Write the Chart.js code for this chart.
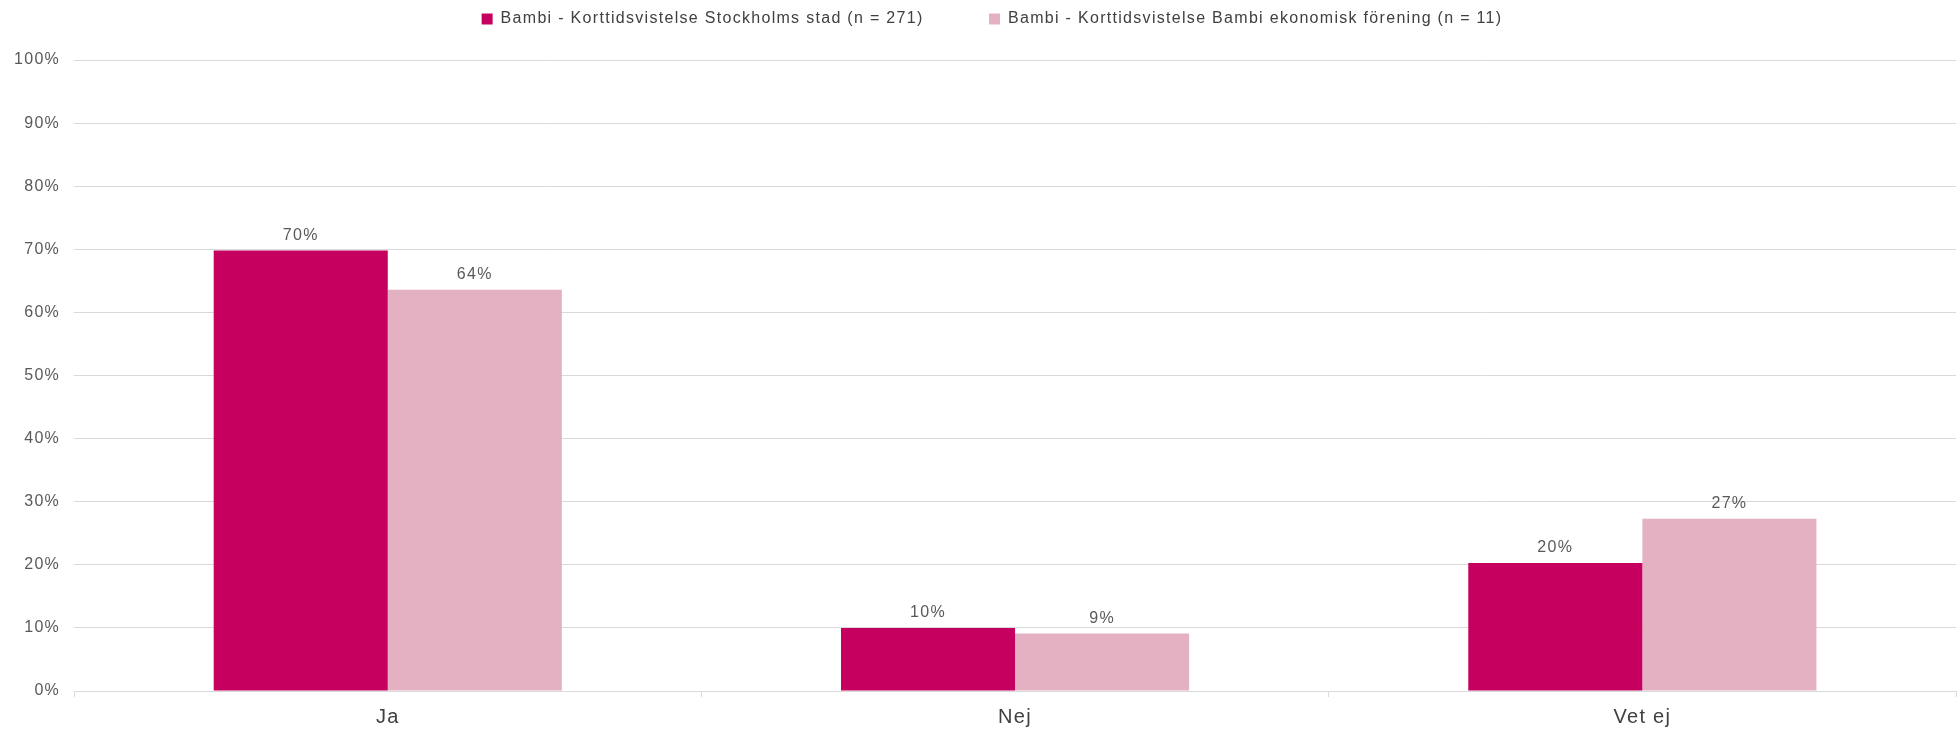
<!DOCTYPE html>
<html>
<head>
<meta charset="utf-8">
<script src="https://cdn.jsdelivr.net/npm/chart.js@4.4.0/dist/chart.umd.min.js"></script>
<style>
    html, body { margin: 0; padding: 0; background: #fff; }
    #wrap { width: 1960px; height: 729px; }
</style>
</head>
<body>
<div id="wrap"><canvas id="answers-chart"></canvas></div>
<script>
const categories = ["Ja", "Nej", "Vet ej"];
const seriesNames = [
    "Bambi - Korttidsvistelse Stockholms stad (n = 271)",
    "Bambi - Korttidsvistelse Bambi ekonomisk förening (n = 11)"
];
const stockholmValues = [69.8, 10.0, 20.3];
const foreningValues = [63.6, 9.1, 27.3];
const yTicks = [0, 10, 20, 30, 40, 50, 60, 70, 80, 90, 100];

const textGray = "#595959";
const gridGray = "#d9d9d9";
const fontFamily = "'Liberation Sans', Arial, sans-serif";
const spacing = "1.3px";

// the original text is a bit wider than plain Arial
const letterSpacing = {
    id: "letterSpacing",
    beforeLayout(chart) { chart.ctx.letterSpacing = spacing; },
    beforeDraw(chart) { chart.ctx.letterSpacing = spacing; }
};

// pushes the plot area down below the legend, and nudges the legend right
const legendGap = {
    id: "legendGap",
    beforeInit(chart) {
        const fit = chart.legend.fit;
        chart.legend.fit = function () {
            fit.bind(chart.legend)();
            this.height += 23;
        };
    },
    afterLayout(chart) {
        chart.legend.left += 14;
        chart.legend.right += 14;
    }
};

// percent label above every bar
const barLabels = {
    id: "barLabels",
    afterDatasetsDraw(chart) {
        const ctx = chart.ctx;
        ctx.save();
        ctx.letterSpacing = spacing;
        ctx.font = "16px " + fontFamily;
        ctx.fillStyle = textGray;
        ctx.textAlign = "center";
        ctx.textBaseline = "middle";
        chart.data.datasets.forEach((ds, i) => {
            chart.getDatasetMeta(i).data.forEach((bar, j) => {
                ctx.fillText(Math.round(ds.data[j]) + "%", bar.x, bar.y - 15);
            });
        });
        ctx.restore();
    }
};

new Chart("answers-chart", {
    type: "bar",
    data: {
        labels: categories,
        datasets: [{
            // trailing spaces widen the gap between the two legend items
            label: seriesNames[0] + "\u00a0".repeat(10),
            data: stockholmValues,
            backgroundColor: "#c6005e",
            barPercentage: 1,
            categoryPercentage: 0.555
        }, {
            label: seriesNames[1],
            data: foreningValues,
            backgroundColor: "#e3b1c2",
            barPercentage: 1,
            categoryPercentage: 0.555
        }]
    },
    options: {
        responsive: true,
        maintainAspectRatio: false,
        animation: false,
        layout: {
            padding: { left: 0, right: 4, top: 3, bottom: -8 }
        },
        plugins: {
            tooltip: { enabled: false },
            legend: {
                position: "top",
                labels: {
                    boxWidth: 11,
                    boxHeight: 11,
                    padding: 8,
                    color: "#404040",
                    font: { size: 16, family: fontFamily }
                }
            }
        },
        scales: {
            x: {
                grid: {
                    drawOnChartArea: false,
                    drawTicks: true,
                    tickLength: 6,
                    color: gridGray
                },
                border: { display: true, color: gridGray },
                ticks: {
                    padding: 8,
                    color: "#404040",
                    font: { size: 20, family: fontFamily }
                }
            },
            y: {
                min: 0,
                max: 100,
                afterBuildTicks(axis) {
                    axis.ticks = yTicks.map(v => ({ value: v }));
                },
                grid: {
                    drawTicks: false,
                    color: gridGray
                },
                border: { display: false },
                ticks: {
                    padding: 14,
                    color: textGray,
                    font: { size: 16, family: fontFamily },
                    callback: v => v + "%"
                }
            }
        }
    },
    plugins: [letterSpacing, legendGap, barLabels]
});
</script>
</body>
</html>
